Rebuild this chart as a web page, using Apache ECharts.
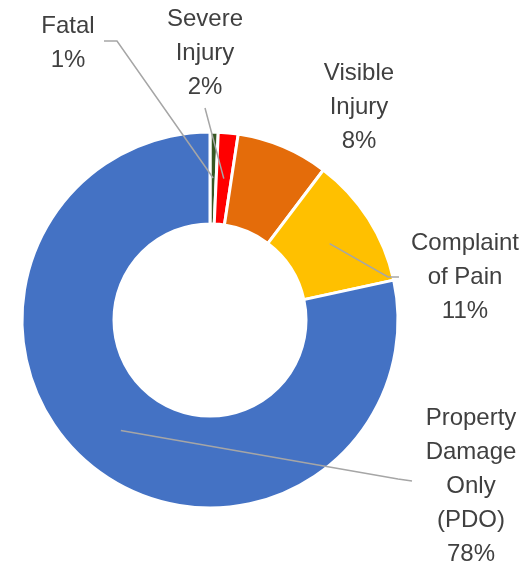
<!DOCTYPE html>
<html>
<head>
<meta charset="utf-8">
<script src="https://cdn.jsdelivr.net/npm/echarts@6/dist/echarts.min.js"></script>
<style>
  html, body { margin: 0; padding: 0; background: #fff; }
  #chart { width: 526px; height: 562px; }
</style>
</head>
<body>
<div id="chart"></div>
<script>
// Crash severity share (values read from the donut)
const categories = ["Fatal", "Severe\nInjury", "Visible\nInjury", "Complaint\nof Pain", "Property\nDamage\nOnly\n(PDO)"];
const shares = [0.7, 1.7, 7.9, 11.3, 78.4];
const colors = ["#385723", "#FF0000", "#E46C0A", "#FFC000", "#4472C4"];

// where each label block sits, and the bend points of its leader line
const labelPos = [[68, 43], [205, 53], [359, 107], [465, 277], [471, 486]];
const leaderBends = [[[117, 41], [104, 41]], [[205, 108]], null, [[388, 277], [399, 277]], [[398, 479], [412, 481]]];

const cx = 210, cy = 320, rIn = 96, rOut = 188;

// mid angle of each slice, measured clockwise from 12 o'clock
const total = shares.reduce((a, b) => a + b, 0);
let acc = 0;
const midAngles = shares.map((v) => {
  const mid = (acc + v / 2) / total * 2 * Math.PI;
  acc += v;
  return mid;
});

// leader lines start in the middle of the ring, on the slice's mid angle
const leaders = [];
shares.forEach((v, i) => {
  if (!leaderBends[i]) return;
  const rm = (rIn + rOut) / 2;
  const a = midAngles[i];
  const start = [cx + rm * Math.sin(a), cy - rm * Math.cos(a)];
  leaders.push({
    type: "polyline",
    z: 100,
    shape: { points: [start].concat(leaderBends[i]) },
    style: { stroke: "#A6A6A6", lineWidth: 1.5, fill: null },
  });
});

const chart = echarts.init(document.getElementById("chart"));
chart.setOption({
  animation: false,
  graphic: leaders,
  series: [
    {
      type: "pie",
      center: [cx, cy],
      radius: [rIn, rOut],
      startAngle: 90,
      clockwise: true,
      avoidLabelOverlap: false,
      percentPrecision: 0,
      itemStyle: { borderColor: "#fff", borderWidth: 3 },
      label: {
        show: true,
        formatter: "{b}\n{d}%",
        color: "#404040",
        fontSize: 24,
        lineHeight: 34,
        fontFamily: "Liberation Sans",
        align: "center",
      },
      labelLine: { show: false },
      labelLayout: (params) => ({
        x: labelPos[params.dataIndex][0],
        y: labelPos[params.dataIndex][1],
        align: "center",
        verticalAlign: "middle",
      }),
      data: categories.map((name, i) => ({
        name,
        value: shares[i],
        itemStyle: { color: colors[i] },
      })),
    },
  ],
});
</script>
</body>
</html>
